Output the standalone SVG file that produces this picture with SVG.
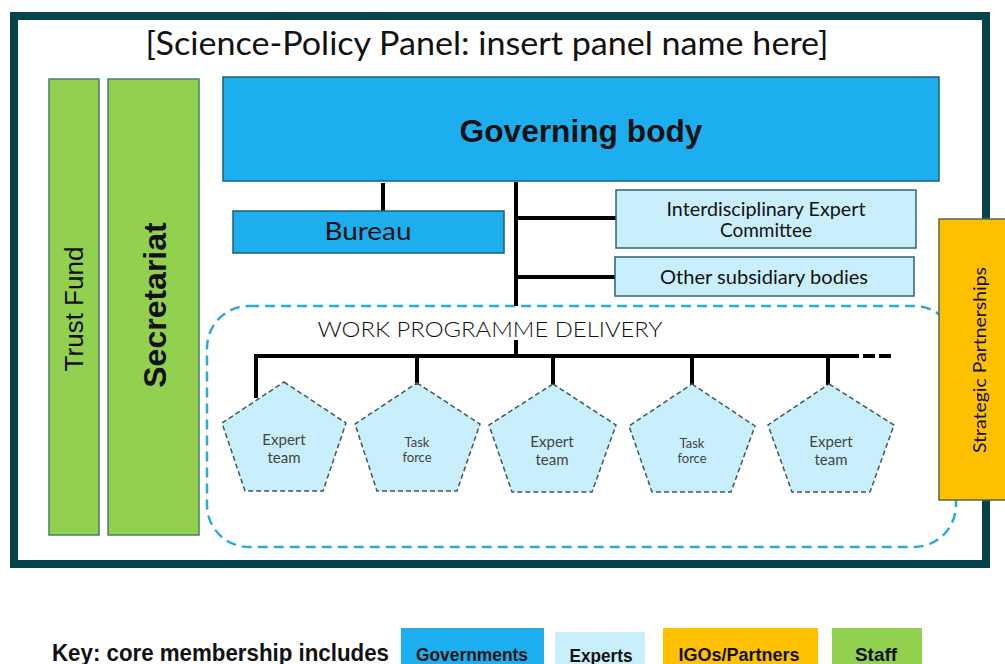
<svg xmlns="http://www.w3.org/2000/svg" width="1005" height="664" viewBox="0 0 1005 664">
<style>
.gov{fill:#1DAEEF;stroke:#1F5F6E;stroke-width:1.5}
.exp{fill:#C9EFFD;stroke:#2C6470;stroke-width:1.5}
.staff{fill:#92D050;stroke:#4E7C6C;stroke-width:1.5}
.igo{fill:#FFC000;stroke:#5C6648;stroke-width:1.5}
.pent{fill:#C9EFFD;stroke:#3E5A5C;stroke-width:1.5;stroke-dasharray:5,3}
.conn{stroke:#000;stroke-width:4;fill:none}
.lato{font-family:Lato,"Open Sans","Liberation Sans",sans-serif;fill:#111}
.arial{font-family:"Liberation Sans",Arial,sans-serif;fill:#111}
.ptxt{font-family:Lato,"Open Sans","Liberation Sans",sans-serif;fill:#444;text-anchor:middle}
.key{font-family:"Liberation Sans",Arial,sans-serif;font-weight:bold;fill:#111;text-anchor:middle}
</style>
<rect x="0" y="0" width="1005" height="664" fill="#fff"/>
<g id="frame">
<rect x="14" y="16" width="972" height="548" fill="#fff" stroke="#05444B" stroke-width="8"/>
<text class="lato" x="487" y="55" font-size="32" text-anchor="middle" textLength="683" lengthAdjust="spacingAndGlyphs">[Science-Policy Panel: insert panel name here]</text>
</g>
<g id="wpd">
<rect x="207" y="306" width="749" height="241" rx="42" ry="42" fill="none" stroke="#29ABE2" stroke-width="2.5" stroke-dasharray="10,6"/>
<text class="lato" x="490" y="337" font-size="22" fill="#222" text-anchor="middle" textLength="345" lengthAdjust="spacingAndGlyphs" style="font-weight:300">WORK PROGRAMME DELIVERY</text>
</g>
<g id="connectors">
<line class="conn" x1="383" y1="183" x2="383" y2="211"/>
<line class="conn" x1="516" y1="182" x2="516" y2="306"/>
<line class="conn" x1="516" y1="340" x2="516" y2="357"/>
<line class="conn" x1="516" y1="218" x2="617" y2="218"/>
<line class="conn" x1="516" y1="277" x2="615" y2="277"/>
<line class="conn" x1="254" y1="356" x2="847" y2="356"/>
<line class="conn" x1="847" y1="356" x2="894" y2="356" stroke-dasharray="12,4"/>
<line class="conn" x1="256" y1="354" x2="256" y2="398"/>
<line class="conn" x1="417" y1="354" x2="417" y2="383"/>
<line class="conn" x1="553" y1="354" x2="553" y2="385"/>
<line class="conn" x1="692" y1="354" x2="692" y2="385"/>
<line class="conn" x1="828" y1="354" x2="828" y2="385"/>
</g>
<g id="trust-fund">
<rect class="staff" x="49" y="79" width="50" height="456"/>
<text class="arial" transform="translate(83,309) rotate(-90)" font-size="26" text-anchor="middle">Trust Fund</text>
</g>
<g id="secretariat">
<rect class="staff" x="108" y="79" width="91" height="456"/>
<text class="arial" transform="translate(166,305) rotate(-90)" font-size="32" font-weight="bold" text-anchor="middle">Secretariat</text>
</g>
<g id="governing-body">
<rect class="gov" x="223" y="77" width="716" height="104"/>
<text class="arial" x="581" y="142" font-size="31" font-weight="bold" text-anchor="middle" textLength="243" lengthAdjust="spacingAndGlyphs">Governing body</text>
</g>
<g id="bureau">
<rect class="gov" x="233" y="211" width="271" height="42"/>
<text class="lato" x="368" y="240" font-size="25" text-anchor="middle" textLength="87" lengthAdjust="spacingAndGlyphs">Bureau</text>
</g>
<g id="iec">
<rect class="exp" x="616" y="190" width="300" height="58"/>
<text class="lato" x="766" y="216" font-size="19" text-anchor="middle" textLength="199" lengthAdjust="spacingAndGlyphs">Interdisciplinary Expert</text>
<text class="lato" x="766" y="237" font-size="19" text-anchor="middle">Committee</text>
</g>
<g id="other-subsidiary">
<rect class="exp" x="615" y="257" width="299" height="39"/>
<text class="lato" x="764" y="284" font-size="19" text-anchor="middle" textLength="208" lengthAdjust="spacingAndGlyphs">Other subsidiary bodies</text>
</g>
<g id="expert-team-1">
<polygon class="pent" points="284,382 346,423 323,491 245,491 222,423"/>
<text class="ptxt" x="284" y="445" font-size="15">Expert</text>
<text class="ptxt" x="284" y="463" font-size="15">team</text>
</g>
<g id="task-force-1">
<polygon class="pent" points="417,383 480,424 457,491 377,491 355,424"/>
<text class="ptxt" x="417" y="447" font-size="13">Task</text>
<text class="ptxt" x="417" y="462" font-size="13">force</text>
</g>
<g id="expert-team-2">
<polygon class="pent" points="553,384 616,425 592,492 512,492 489,425"/>
<text class="ptxt" x="552" y="447" font-size="15">Expert</text>
<text class="ptxt" x="552" y="465" font-size="15">team</text>
</g>
<g id="task-force-2">
<polygon class="pent" points="692,384 755,426 731,492 652,492 629,426"/>
<text class="ptxt" x="692" y="448" font-size="13">Task</text>
<text class="ptxt" x="692" y="463" font-size="13">force</text>
</g>
<g id="expert-team-3">
<polygon class="pent" points="829,384 894,425 870,492 792,492 768,425"/>
<text class="ptxt" x="831" y="447" font-size="15">Expert</text>
<text class="ptxt" x="831" y="465" font-size="15">team</text>
</g>
<g id="strategic-partnerships">
<rect class="igo" x="939" y="219" width="70" height="281"/>
<text class="lato" transform="translate(986,360) rotate(-90)" font-size="17" text-anchor="middle" textLength="186" lengthAdjust="spacingAndGlyphs">Strategic Partnerships</text>
</g>
<g id="key">
<text class="arial" x="52" y="661" font-size="23" font-weight="bold" textLength="337" lengthAdjust="spacingAndGlyphs">Key: core membership includes</text>
<g id="key-governments">
<rect x="401" y="628" width="143" height="40" fill="#1DAEEF"/>
<text class="key" x="472" y="661" font-size="18" textLength="112" lengthAdjust="spacingAndGlyphs">Governments</text>
</g>
<g id="key-experts">
<rect x="555" y="632" width="90" height="36" fill="#C9EFFD"/>
<text class="key" x="601" y="662" font-size="18" textLength="63" lengthAdjust="spacingAndGlyphs">Experts</text>
</g>
<g id="key-igos">
<rect x="663" y="628" width="155" height="40" fill="#FFC000"/>
<text class="key" x="739" y="661" font-size="18" textLength="121" lengthAdjust="spacingAndGlyphs">IGOs/Partners</text>
</g>
<g id="key-staff">
<rect x="832" y="628" width="90" height="40" fill="#92D050"/>
<text class="key" x="876" y="661" font-size="18" textLength="42" lengthAdjust="spacingAndGlyphs">Staff</text>
</g>
</g>
</svg>
